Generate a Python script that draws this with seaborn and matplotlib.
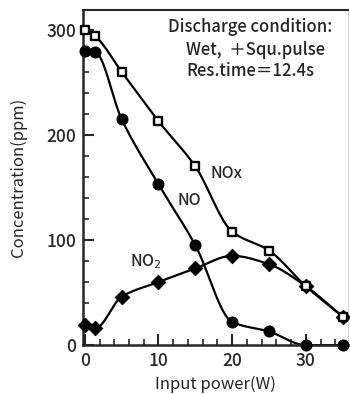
import numpy as np
import pandas as pd
import matplotlib
matplotlib.use("Agg")
import matplotlib.pyplot as plt
from matplotlib.ticker import MultipleLocator
import seaborn as sns

# ── data ────────────────────────────────────────────────────
power = [0, 1.4, 5, 10, 15, 20, 25, 30, 35]
nox = [300, 294, 260, 213, 170, 108, 90, 56, 27]
no = [280, 279, 215, 153, 95, 22, 13, 0, 0]
no2 = [19, 16, 46, 60, 73, 85, 77, 56, 27]


def smooth(x, y, n=300):
    # monotone cubic (pchip) curve through the measured points
    x = np.asarray(x, float)
    y = np.asarray(y, float)
    h = np.diff(x)
    d = np.diff(y) / h
    m = np.zeros_like(y)
    m[0], m[-1] = d[0], d[-1]
    for k in range(1, len(x) - 1):
        if d[k - 1] * d[k] > 0:
            w1 = 2 * h[k] + h[k - 1]
            w2 = h[k] + 2 * h[k - 1]
            m[k] = (w1 + w2) / (w1 / d[k - 1] + w2 / d[k])
    xs = np.linspace(x[0], x[-1], n)
    idx = np.clip(np.searchsorted(x, xs) - 1, 0, len(x) - 2)
    t = (xs - x[idx]) / h[idx]
    h00 = 2 * t**3 - 3 * t**2 + 1
    h10 = t**3 - 2 * t**2 + t
    h01 = -2 * t**3 + 3 * t**2
    h11 = t**3 - t**2
    ys = (h00 * y[idx] + h10 * h[idx] * m[idx]
          + h01 * y[idx + 1] + h11 * h[idx] * m[idx + 1])
    return xs, ys


sns.set_theme(style="ticks")
plt.rcParams["font.family"] = ["Noto Sans CJK JP", "DejaVu Sans"]
plt.rcParams["font.weight"] = "medium"

fig = plt.figure(figsize=(3.5, 3.94), dpi=100)
ax = fig.add_axes([0.237, 0.124, 0.757, 0.851])

df = pd.DataFrame({"power": power, "NOx": nox, "NO": no, "NO2": no2})

for col in ["NOx", "NO", "NO2"]:
    xs, ys = smooth(df["power"], df[col])
    ax.plot(xs, ys, color="black", lw=1.6, zorder=2, clip_on=False)

sns.scatterplot(data=df, x="power", y="NO", ax=ax, marker="o", s=64,
                color="black", edgecolor="black", zorder=3, clip_on=False)
sns.scatterplot(data=df, x="power", y="NO2", ax=ax, marker="D", s=55,
                color="black", edgecolor="black", zorder=3, clip_on=False)
sns.scatterplot(data=df, x="power", y="NOx", ax=ax, marker="s", s=30,
                facecolor="white", edgecolor="black", linewidth=1.7,
                zorder=4, clip_on=False)

ax.set_xlim(-0.25, 35.7)
ax.set_ylim(0, 319)
ax.xaxis.set_major_locator(MultipleLocator(10))
ax.xaxis.set_minor_locator(MultipleLocator(2))
ax.yaxis.set_major_locator(MultipleLocator(100))
ax.yaxis.set_minor_locator(MultipleLocator(20))
ax.tick_params(which="major", direction="in", length=8, width=1.5,
               labelsize=12.5, pad=5, top=False, right=False)
ax.tick_params(which="minor", direction="in", length=4, width=1.2,
               top=False, right=False)

for side in ["left", "bottom"]:
    ax.spines[side].set_linewidth(1.8)
ax.spines["top"].set_linewidth(1.5)
ax.spines["right"].set_linewidth(0.6)
ax.spines["right"].set_color("#cccccc")

ax.set_xlabel("Input power(W)", fontsize=12, labelpad=4)
ax.set_ylabel("Concentration(ppm)", fontsize=12, labelpad=14)

ax.text(17.0, 163, "NOx", fontsize=11.5, va="center", ha="left")
ax.text(12.6, 138, "NO", fontsize=11.5, va="center", ha="left")
ax.text(6.1, 79, "NO$_2$", fontsize=11.5, va="center", ha="left")

ax.text(0.32, 0.949, "Discharge condition:", transform=ax.transAxes,
        fontsize=12, va="center", ha="left")
ax.text(0.39, 0.881, "Wet,  ＋Squ.pulse", transform=ax.transAxes,
        fontsize=12, va="center", ha="left")
ax.text(0.39, 0.818, "Res.time＝12.4s", transform=ax.transAxes,
        fontsize=12, va="center", ha="left")

fig.savefig("out.png", dpi=100)
